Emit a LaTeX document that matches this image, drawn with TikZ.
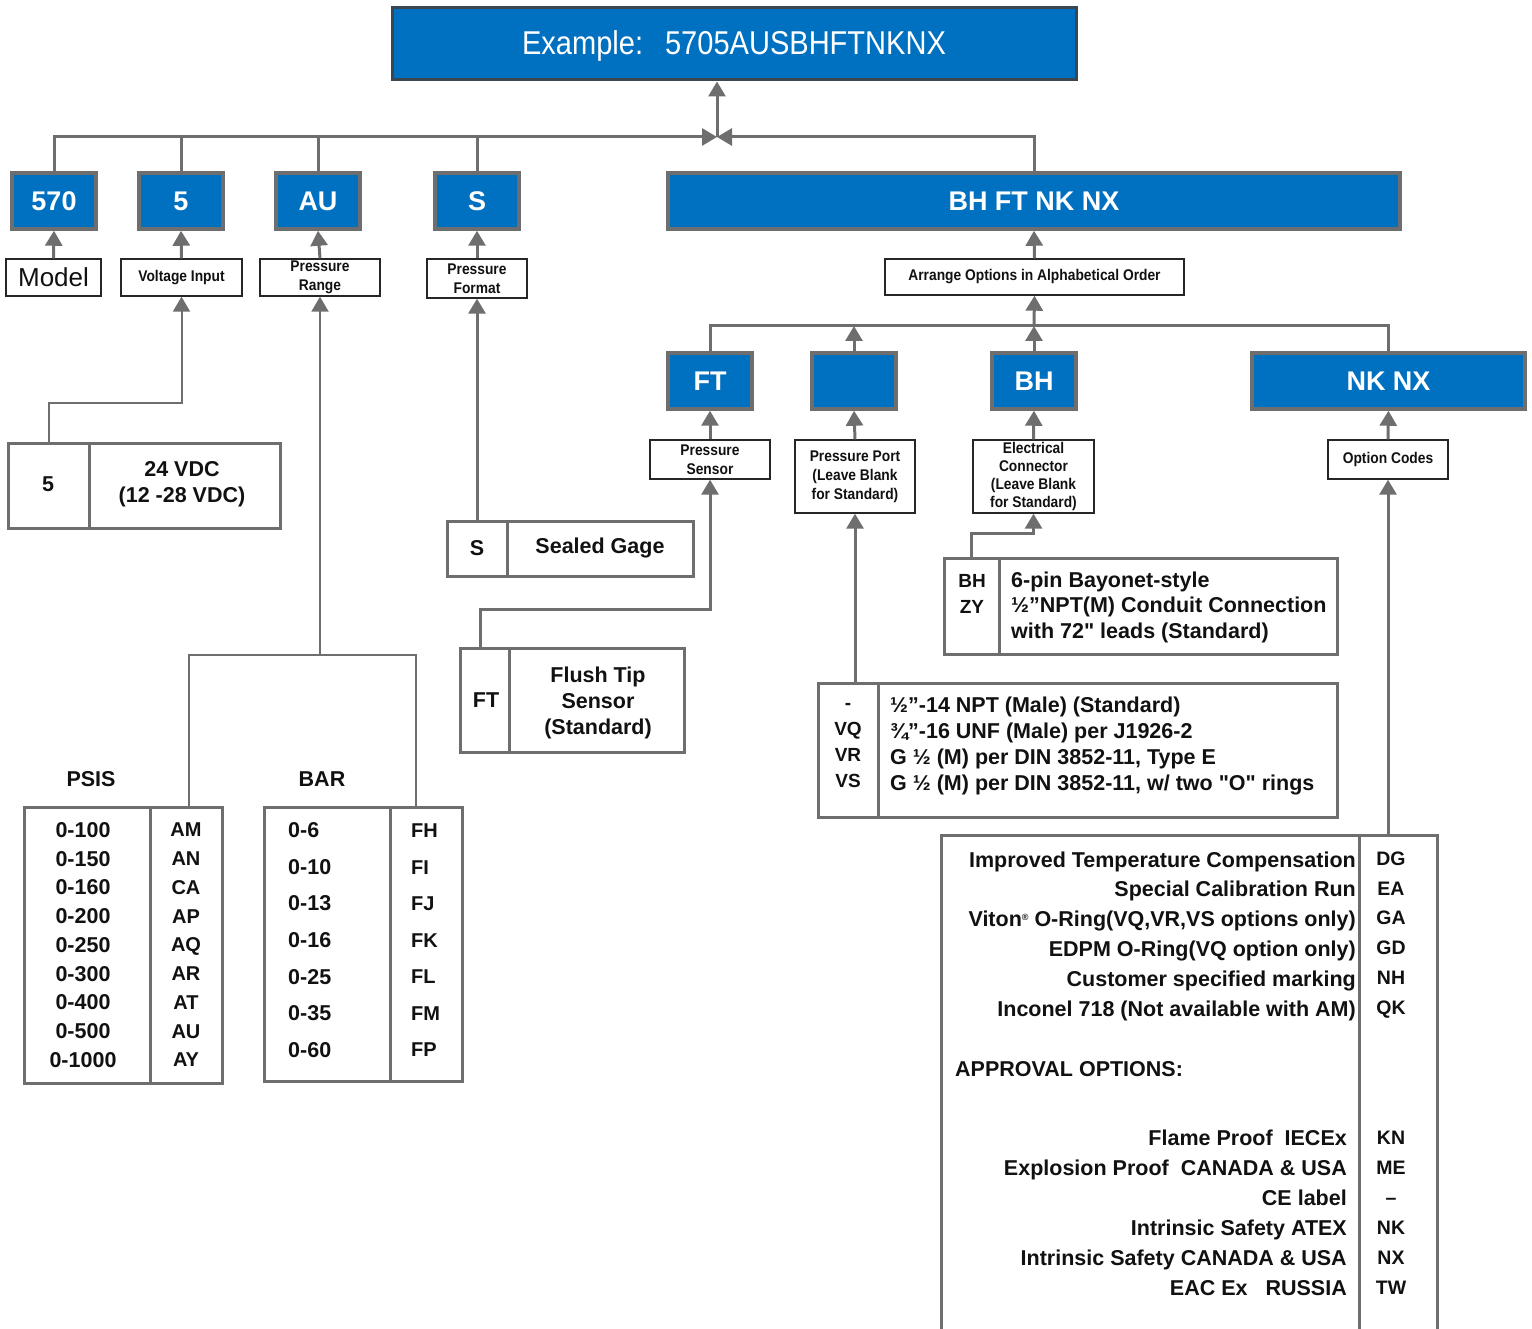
\documentclass[tikz,border=0pt]{standalone}
\usepackage{fontspec}
\setmainfont{Liberation Sans}
\newfontfamily\narrowfont{Liberation Sans}[FakeStretch=0.89]
\newfontfamily\titlefam{Liberation Sans}[FakeStretch=0.88]
\usetikzlibrary{arrows.meta}
\definecolor{blu}{HTML}{0070C0}
\definecolor{gry}{HTML}{6E6E6E}
\definecolor{tborder}{HTML}{3B4653}
\definecolor{txt}{HTML}{111111}
\newcommand\bodyfont{\bfseries\fontsize{21.5}{26}\selectfont}
\newcommand\lblfont{\narrowfont\bfseries\fontsize{15.5}{19}\selectfont}
\newcommand\sq{\XeTeXglyph\XeTeXcharglyph"22\relax}
\begin{document}
\begin{tikzpicture}[x=1pt,y=-1pt,
  bluebox/.style={draw=gry, line width=3.5pt, fill=blu, text=white, inner sep=0pt,
    font=\bfseries\fontsize{27}{30}\selectfont},
  lbl/.style={draw=black!85, line width=1.4pt, fill=white, text=txt, align=center, inner sep=0pt, font=\lblfont},
  tbox/.style={draw=gry, line width=3pt, inner sep=0pt},
  txtn/.style={inner sep=0pt, text=txt, font=\bodyfont},
  conn/.style={draw=gry, line width=3pt},
  thinconn/.style={draw=gry, line width=2pt},
  arr/.style={conn, -{Triangle[width=17pt,length=15pt]}},
  thinarr/.style={thinconn, -{Triangle[width=17pt,length=15pt]}}]
\useasboundingbox (0,0) rectangle (1532,1329);

% title
\node[draw=tborder, line width=3pt, fill=blu, inner sep=0pt,
  minimum width=684pt, minimum height=72pt] (title) at (734,44) {};
\node[text=white, inner sep=0pt, font=\titlefam\fontsize{33}{36}\selectfont] (titletext) at (734,46) {Example:\hspace{22pt}5705AUSBHFTNKNX};

% first row of blue boxes
\node[bluebox, minimum width=84pt, minimum height=56pt] (b570) at (54,201) {570};
\node[bluebox, minimum width=84pt, minimum height=56pt] (b5) at (181,201) {5};
\node[bluebox, minimum width=84pt, minimum height=56pt] (bAU) at (318,201) {AU};
\node[bluebox, minimum width=84pt, minimum height=56pt] (bS) at (477,201) {S};
\node[bluebox, minimum width=732pt, minimum height=56pt] (bBIG) at (1034,201) {BH FT NK NX};

% labels
\node[lbl, minimum width=95pt, minimum height=37pt, font=\fontsize{26}{30}\selectfont] (lModel) at (53.5,277.5) {Model};
\node[lbl, minimum width=121pt, minimum height=37pt] (lVolt) at (181.5,277.5) {Voltage Input};
\node[lbl, minimum width=120pt, minimum height=37pt] (lRange) at (320,277.5) {Pressure\\Range};
\node[lbl, minimum width=100pt, minimum height=39pt] (lFormat) at (477,278.5) {Pressure\\Format};
\node[lbl, minimum width=299pt, minimum height=36pt] (lArrange) at (1034.5,277) {Arrange Options in Alphabetical Order};

% second row of blue boxes
\node[bluebox, minimum width=84pt, minimum height=56pt] (bFT) at (710,381) {FT};
\node[bluebox, minimum width=84pt, minimum height=56pt] (bBlank) at (854,381) {};
\node[bluebox, minimum width=84pt, minimum height=56pt] (bBH) at (1034,381) {BH};
\node[bluebox, minimum width=273pt, minimum height=56pt] (bNKNX) at (1388.5,381) {NK NX};

\node[lbl, minimum width=120pt, minimum height=39pt] (lSensor) at (710,459.5) {Pressure\\Sensor};
\node[lbl, minimum width=120pt, minimum height=73pt] (lPort) at (855,476.5) {Pressure Port\\(Leave Blank\\for Standard)};
\node[lbl, minimum width=121pt, minimum height=73pt, font=\narrowfont\bfseries\fontsize{15.5}{18}\selectfont] (lElec) at (1033.5,476.5) {Electrical\\Connector\\(Leave Blank\\for Standard)};
\node[lbl, minimum width=120pt, minimum height=39pt] (lOpt) at (1388,459.5) {Option Codes};

% voltage table
\node[tbox, minimum width=81pt, minimum height=84pt] (v5) at (48.5,486) {};
\node[tbox, minimum width=191pt, minimum height=84pt] (vDesc) at (184.5,486) {};
\node[txtn] (t5) at (48,484) {5};
\node[txtn, align=center] (tVdc) at (182,484) {24 VDC\\(12 -28 VDC)};

% sealed gage
\node[tbox, minimum width=60pt, minimum height=55pt] (sS) at (477,548.5) {};
\node[tbox, minimum width=186pt, minimum height=55pt] (sDesc) at (600,548.5) {};
\node[txtn] (tS) at (477,548) {S};
\node[txtn] (tSG) at (600,548) {Sealed Gage};

% flush tip
\node[tbox, minimum width=49pt, minimum height=104pt] (ftC) at (484.5,700) {};
\node[tbox, minimum width=175pt, minimum height=104pt] (ftD) at (596.5,700) {};
\node[txtn] (tFT) at (486,700) {FT};
\node[txtn, align=center] (tFTd) at (598,703) {Flush Tip\\Sensor\\(Standard)};

% electrical connector
\node[tbox, minimum width=55pt, minimum height=96pt] (ecC) at (971.5,606) {};
\node[tbox, minimum width=338pt, minimum height=96pt] (ecD) at (1168,606) {};
\node[txtn, align=center, font=\bfseries\fontsize{19}{26}\selectfont] (tEC) at (972,594) {BH\\ZY};
\node[txtn, align=left, anchor=west, font=\bfseries\fontsize{21.5}{25.5}\selectfont] (tECd) at (1011,607) {6-pin Bayonet-style\\½”NPT(M) Conduit Connection\\with 72\sq{} leads (Standard)};

% pressure port
\node[tbox, minimum width=60pt, minimum height=134pt] (ppC) at (848,750) {};
\node[tbox, minimum width=459pt, minimum height=134pt] (ppD) at (1107.5,750) {};
\node[txtn, align=center, font=\bfseries\fontsize{19}{26}\selectfont] (tPP) at (848,746) {-\\VQ\\VR\\VS};
\node[txtn, align=left, anchor=west] (tPPd) at (890,746) {½”-14 NPT (Male) (Standard)\\¾”-16 UNF (Male) per J1926-2\\G ½ (M) per DIN 3852-11, Type E\\G ½ (M) per DIN 3852-11, w/ two \sq{}O\sq{} rings};

% psis / bar tables
\node[txtn] (tPSIS) at (91,779) {PSIS};
\node[txtn] (tBAR) at (322,779) {BAR};
\node[tbox, minimum width=126pt, minimum height=276pt] (psL) at (87,945) {};
\node[tbox, minimum width=72pt, minimum height=276pt] (psR) at (186,945) {};
\node[tbox, minimum width=126pt, minimum height=274pt] (barL) at (327,944) {};
\node[tbox, minimum width=72pt, minimum height=274pt] (barR) at (426,944) {};
\node[txtn, align=center, font=\bfseries\fontsize{21.5}{28.75}\selectfont] (tPSv) at (83,945) {0-100\\0-150\\0-160\\0-200\\0-250\\0-300\\0-400\\0-500\\0-1000};
\node[txtn, align=center, font=\bfseries\fontsize{20}{28.75}\selectfont] (tPSc) at (186,945) {AM\\AN\\CA\\AP\\AQ\\AR\\AT\\AU\\AY};
\node[txtn, align=left, anchor=west, font=\bfseries\fontsize{21.5}{36.67}\selectfont] (tBv) at (288,940) {0-6\\0-10\\0-13\\0-16\\0-25\\0-35\\0-60};
\node[txtn, align=left, anchor=west, font=\bfseries\fontsize{20}{36.5}\selectfont] (tBc) at (411,940.5) {FH\\FI\\FJ\\FK\\FL\\FM\\FP};

% option codes table
\node[tbox, minimum width=418pt, minimum height=510pt] (opL) at (1150,1090) {};
\node[tbox, minimum width=78pt, minimum height=510pt] (opR) at (1398,1090) {};
\node[txtn, align=right, anchor=east, font=\bfseries\fontsize{21.5}{29.8}\selectfont] (tOpt) at (1356,936) {Improved Temperature Compensation\\Special Calibration Run\\Viton{\fontsize{9}{9}\selectfont\raisebox{6pt}{®}} O-Ring(VQ,VR,VS options only)\\EDPM O-Ring(VQ option only)\\Customer specified marking\\Inconel 718 (Not available with AM)};
\node[txtn, align=center, font=\bfseries\fontsize{19.5}{29.8}\selectfont] (tOptc) at (1391,935) {DG\\EA\\GA\\GD\\NH\\QK};
\node[txtn, anchor=west] (tAppr) at (955,1069) {APPROVAL OPTIONS:};
\node[txtn, align=right, anchor=east, font=\bfseries\fontsize{21.5}{30}\selectfont] (tApp) at (1347,1213) {Flame Proof\ \ IECEx\\Explosion Proof\ \ CANADA \& USA\\CE label\\Intrinsic Safety ATEX\\Intrinsic Safety CANADA \& USA\\EAC Ex\ \ \ RUSSIA};
\node[txtn, align=center, font=\bfseries\fontsize{19.5}{30}\selectfont] (tAppc) at (1391,1212.5) {KN\\ME\\–\\NK\\NX\\TW};

% ---- connectors ----
\coordinate (J) at (717,137);
\draw[arr] (b570.north) |- (J);
\draw[conn] (b5.north) -- (b5.north |- J);
\draw[conn] (bAU.north) -- (bAU.north |- J);
\draw[conn] (bS.north) -- (bS.north |- J);
\draw[arr] (bBIG.north) |- (J);
\draw[arr] (J) -- (J |- title.south);

\draw[arr] (lModel.north) -- (b570.south);
\draw[arr] (lVolt.north) -- (b5.south);
\draw[arr] (lRange.north) -- (bAU.south);
\draw[arr] (lFormat.north) -- (bS.south);
\draw[arr] (lArrange.north) -- (bBIG.south);

\draw[thinarr] (v5.north) -- ++(0,-39) -| (lVolt.south);
\coordinate (RJ) at (320,655);
\draw[thinarr] (RJ) -- (lRange.south);
\draw[thinconn] ([xshift=3pt]psR.north) |- (RJ) -| ([xshift=-10pt]barR.north);
\draw[arr] (sS.north) -- (lFormat.south);
\draw[arr] ([xshift=-4pt]ftC.north) -- ++(0,-37) -| (lSensor.south);
\draw[arr] (lPort.south |- ppC.north) -- (lPort.south);
\draw[arr] (ecC.north) -- ++(0,-23) -| (lElec.south);
\draw[arr] (lOpt.south |- opR.north) -- (lOpt.south);

\coordinate (K) at (1034,326);
\draw[conn] (bFT.north) |- (bNKNX.north |- K) -- (bNKNX.north);
\draw[arr] (bBlank.north) -- (bBlank.north |- K);
\draw[arr] (bBH.north) -- (K);
\draw[arr] (K) -- (lArrange.south);

\draw[arr] (lSensor.north) -- (bFT.south);
\draw[arr] (lPort.north) -- (bBlank.south);
\draw[arr] (lElec.north) -- (bBH.south);
\draw[arr] (lOpt.north) -- (bNKNX.south);
\end{tikzpicture}
\end{document}
